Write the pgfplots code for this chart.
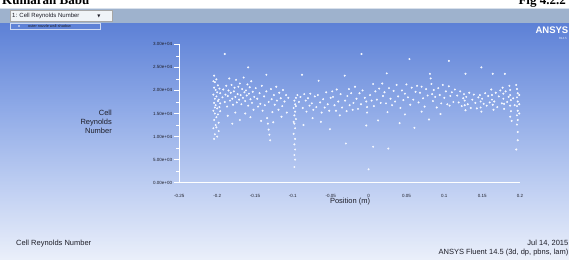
\documentclass[border=0pt]{standalone}
\usepackage{pgfplots}
\pgfplotsset{compat=1.18}
\usepackage{fontspec}
\setmainfont{Liberation Sans}
\newfontfamily\serifhdr{Liberation Serif}
\newfontfamily\dejavu{DejaVu Sans}
\definecolor{toolgray}{RGB}{158,178,205}
\definecolor{bgtop}{RGB}{92,128,214}
\definecolor{bgmid}{RGB}{143,170,231}
\definecolor{bglow}{RGB}{186,203,241}
\definecolor{bgbot}{RGB}{234,239,250}
\definecolor{lbl}{RGB}{30,30,40}
\definecolor{dotc}{RGB}{245,248,255}

\pgfplotstableread{
x y
-0.204 9500
-0.203 10500
-0.205 11800
-0.202 12500
-0.204 13600
-0.201 14200
-0.203 15000
-0.205 15600
-0.200 16100
-0.202 16800
-0.204 17300
-0.199 17700
-0.203 18200
-0.201 18700
-0.205 19100
-0.200 19600
-0.202 20100
-0.204 20600
-0.199 21100
-0.203 21800
-0.201 22400
-0.204 23200
-0.198 13000
-0.199 14800
-0.197 16400
-0.198 18000
-0.196 19400
-0.197 20400
-0.196 15500
-0.198 11200
-0.200 10000
-0.196 17200
-0.205 22000
-0.201 12000
-0.203 16300
-0.193 18500
-0.192 20200
-0.190 17500
-0.189 19100
-0.188 21000
-0.187 16500
-0.186 18800
-0.185 20000
-0.184 22600
-0.183 17800
-0.182 19500
-0.181 21200
-0.180 18200
-0.179 16900
-0.178 19800
-0.177 20600
-0.176 18600
-0.175 22300
-0.174 17400
-0.173 19200
-0.172 20800
-0.171 18000
-0.170 21500
-0.169 19000
-0.168 17000
-0.167 20300
-0.166 18400
-0.165 22800
-0.164 19600
-0.163 17700
-0.162 20000
-0.161 18900
-0.160 21300
-0.159 16700
-0.158 19300
-0.157 20700
-0.156 18100
-0.155 22000
-0.154 17300
-0.153 19700
-0.152 15800
-0.151 18600
-0.190 27900
-0.159 25000
-0.186 14500
-0.180 12800
-0.176 15200
-0.170 13600
-0.163 15000
-0.156 14200
-0.149 20500
-0.147 18200
-0.146 16500
-0.144 19400
-0.143 17100
-0.141 21000
-0.140 15600
-0.138 18700
-0.137 16800
-0.135 23400
-0.135 19800
-0.134 14000
-0.133 12800
-0.132 11500
-0.131 10400
-0.130 9200
-0.132 17500
-0.129 20300
-0.128 18100
-0.127 15300
-0.125 19000
-0.124 16900
-0.122 20800
-0.121 17800
-0.119 15800
-0.118 19500
-0.116 18300
-0.114 16600
-0.113 20100
-0.111 17600
-0.109 19000
-0.108 15200
-0.106 18400
-0.142 13400
-0.126 13100
-0.115 14300
-0.098 17800
-0.097 17000
-0.099 16200
-0.097 15400
-0.098 14600
-0.096 13800
-0.098 12800
-0.097 11800
-0.099 10600
-0.097 9500
-0.098 8300
-0.097 7200
-0.098 6000
-0.097 5000
-0.098 3400
-0.096 16600
-0.099 13200
-0.096 18400
-0.094 19000
-0.092 17500
-0.090 18600
-0.088 23400
-0.087 16200
-0.085 19200
-0.083 17800
-0.082 15400
-0.080 18300
-0.078 16700
-0.077 19300
-0.075 17200
-0.073 15800
-0.071 18700
-0.069 16400
-0.066 22100
-0.067 19000
-0.064 17400
-0.062 15200
-0.060 18100
-0.058 16300
-0.056 19600
-0.054 17000
-0.052 15600
-0.051 11600
-0.050 18400
-0.086 12500
-0.074 14000
-0.063 13200
-0.048 19800
-0.047 18600
-0.045 16800
-0.043 15600
-0.042 20200
-0.040 17600
-0.038 14600
-0.037 19200
-0.035 16300
-0.0315 23200
-0.031 17800
-0.030 8500
-0.029 15500
-0.028 18800
-0.026 20300
-0.025 16800
-0.023 19400
-0.021 15800
-0.020 17300
-0.018 20800
-0.016 18200
-0.014 16000
-0.0094 27900
-0.012 19400
-0.010 17000
-0.008 20000
-0.005 18400
-0.003 17600
-0.002 16400
-0.002 15200
-0.003 12400
0.000 2900
0.002 19000
0.004 17800
0.006 21400
0.007 16600
0.009 19800
0.011 18000
0.0125 13500
0.006 7800
0.014 20400
0.016 17300
0.018 21500
0.019 18800
0.021 19600
0.023 17200
0.024 23700
0.025 15300
0.026 7400
0.027 20500
0.029 18200
0.031 16800
0.033 19900
0.035 17600
0.037 21200
0.039 18700
0.041 12900
0.042 16200
0.044 20000
0.046 17900
0.048 19300
0.050 21300
0.052 18500
0.054 26800
0.055 16900
0.057 20600
0.059 18000
0.0606 11900
0.062 19700
0.064 21000
0.066 17400
0.068 19500
0.070 20800
0.072 18300
0.074 16500
0.076 20300
0.078 18900
0.0798 13700
0.081 23600
0.082 22600
0.083 21400
0.084 19200
0.085 17700
0.086 20100
0.088 18600
0.090 16300
0.092 20500
0.094 19000
0.096 17200
0.098 21200
0.100 18400
0.102 19800
0.104 17000
0.106 26400
0.106 20900
0.107 16700
0.108 18800
0.110 19600
0.112 17500
0.114 20200
0.048 14800
0.070 15400
0.095 14900
0.117 18900
0.119 17400
0.121 19800
0.123 16600
0.125 18300
0.126 19200
0.127 17800
0.127 16800
0.128 23600
0.128 15700
0.129 18600
0.131 17000
0.133 19500
0.135 16200
0.137 18000
0.139 19100
0.141 17300
0.143 16100
0.145 18500
0.147 19000
0.148 17600
0.148 16300
0.149 25000
0.149 15400
0.150 18200
0.152 17100
0.154 19400
0.156 16700
0.158 18800
0.160 17400
0.162 20200
0.163 19000
0.163 18000
0.164 23600
0.164 16900
0.165 15800
0.166 17600
0.168 19500
0.170 16400
0.172 18700
0.174 20000
0.176 17200
0.177 20600
0.178 19300
0.178 18200
0.179 17100
0.180 23600
0.179 16000
0.181 19800
0.183 17500
0.185 18600
0.186 21000
0.187 20100
0.187 19000
0.188 17900
0.187 16700
0.188 15500
0.187 14300
0.189 13400
0.191 18300
0.193 16800
0.195 21200
0.196 20300
0.197 19400
0.196 18500
0.197 17600
0.196 16600
0.197 15600
0.196 14600
0.197 13600
0.196 12600
0.197 11000
0.197 9200
0.195 7200
0.199 19000
0.199 17000
0.199 15000
}\reynolds

\begin{document}
\begin{tikzpicture}[x=1pt,y=1pt]
\useasboundingbox (0,0) rectangle (569,260);
\clip (0,0) rectangle (569,260);
% background gradient as strips (piecewise linear)
\foreach \i in {0,...,236} {
  \ifnum\i<80
    \pgfmathtruncatemacro\p{round(\i/80*100)}
    \fill[bglow!\p!bgbot] (0,\i) rectangle (569,\i+1.1);
  \else
    \ifnum\i<150
      \pgfmathtruncatemacro\p{round((\i-80)/70*100)}
      \fill[bgmid!\p!bglow] (0,\i) rectangle (569,\i+1.1);
    \else
      \pgfmathtruncatemacro\p{round((\i-150)/87*100)}
      \fill[bgtop!\p!bgmid] (0,\i) rectangle (569,\i+1.1);
    \fi
  \fi
}
\fill[white] (0,252) rectangle (569,260);
\node[anchor=base west, inner sep=0, font=\serifhdr\bfseries\fontsize{13}{13}\selectfont] at (2,255) {Kumaran Babu};
\node[anchor=base east, inner sep=0, font=\serifhdr\bfseries\fontsize{13}{13}\selectfont] at (566,255) {Fig 4.2.2};
% toolbar
\fill[toolgray] (0,237) rectangle (569,252);
\draw[white!60!toolgray, line width=0.8pt] (0,251.6) -- (569,251.6);
\fill[white!85!toolgray, draw=gray!70] (10,238.5) rectangle (112,249.5);
\node[anchor=west, inner sep=0, text=lbl, font=\fontsize{6}{6}\selectfont] at (12,244) {1: Cell Reynolds Number};
\node[inner sep=0, text=lbl, font=\dejavu\fontsize{4}{4}\selectfont] at (99,244) {▼};
% legend
\draw[white!70!bgtop, line width=0.5pt] (10,231) rectangle (100,237);
\fill[white] (19,234) circle (0.8);
\node[anchor=west, inner sep=0, text=lbl, font=\fontsize{3.8}{4}\selectfont] at (28,234.2) {outer nozzle wall-shadow};
% ANSYS logo
\node[anchor=north east, inner sep=0, text=white, font=\bfseries\fontsize{9.5}{9.5}\selectfont] at (568.5,233.5) {ANSYS};
\node[anchor=north east, inner sep=0, text=white!85!bgtop, font=\fontsize{3}{3}\selectfont] at (567,222.5) {R14.5};
% axis
\begin{axis}[
  at={(179.3pt,77.3pt)}, anchor=south west,
  scale only axis, width=340.7pt, height=138.4pt,
  xmin=-0.25, xmax=0.2, ymin=0, ymax=30000,
  axis lines=left,
  axis line style={white, line width=0.8pt, -},
  xtick={-0.25,-0.2,-0.15,-0.1,-0.05,0,0.05,0.1,0.15,0.2},
  xticklabels={-0.25,-0.2,-0.15,-0.1,-0.05,0,0.05,0.1,0.15,0.2},
  ytick={0,5000,10000,15000,20000,25000,30000},
  yticklabels={0.00e+00,5.00e+03,1.00e+04,1.50e+04,2.00e+04,2.50e+04,3.00e+04},
  minor ytick={2500,7500,12500,17500,22500,27500},
  scaled ticks=false,
  tick align=outside,
  major tick length=5pt, minor tick length=3pt,
  xtick style={draw=none},
  ytick style={white, line width=0.6pt},
  minor tick style={white, line width=0.5pt},
  ticklabel style={text=lbl, font=\fontsize{4.5}{5}\selectfont},
  yticklabel style={anchor=east, inner sep=0pt, xshift=-2pt},
  xticklabel style={anchor=north, inner sep=0pt, yshift=-6pt},
  clip=false,
]
\addplot[only marks, mark=*, mark size=0.8pt, color=dotc, mark options={draw=none, fill=dotc}] table[x=x, y=y] {\reynolds};
\end{axis}
% axis labels
\node[align=right, anchor=east, inner sep=0, text=lbl, font=\fontsize{7.5}{8.7}\selectfont] at (112,138) {Cell\\Reynolds\\Number};
\node[inner sep=0, text=lbl, font=\fontsize{7.5}{7.5}\selectfont] at (350,58) {Position (m)};
% bottom texts
\node[anchor=base west, inner sep=0, text=lbl, font=\fontsize{7.5}{7.5}\selectfont] at (16,14.8) {Cell Reynolds Number};
\node[anchor=base east, inner sep=0, text=lbl, font=\fontsize{7.5}{7.5}\selectfont] at (568.5,14.8) {Jul 14, 2015};
\node[anchor=base east, inner sep=0, text=lbl, font=\fontsize{7.5}{7.5}\selectfont] at (568.5,5.8) {ANSYS Fluent 14.5 (3d, dp, pbns, lam)};
\end{tikzpicture}
\end{document}
